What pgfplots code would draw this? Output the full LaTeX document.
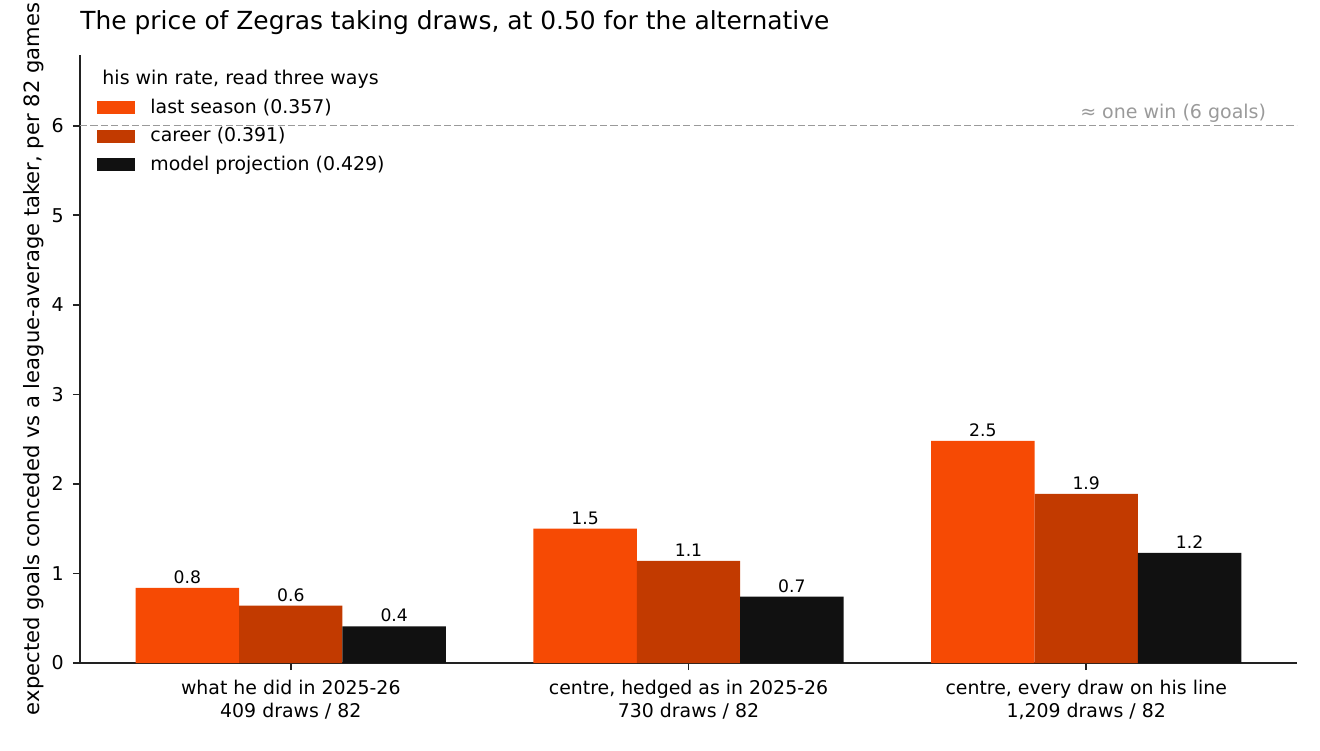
\documentclass[border=0pt]{standalone}
\usepackage{fontspec}
\setmainfont{DejaVu Sans}
\usepackage{pgfplots}
\pgfplotsset{compat=1.18}

\definecolor{cLast}{HTML}{F64A04}
\definecolor{cCareer}{HTML}{C23A00}
\definecolor{cModel}{HTML}{111111}
\definecolor{cRef}{HTML}{9A9A9A}
\definecolor{cAxis}{HTML}{222222}

\begin{document}
\begin{tikzpicture}
\begin{axis}[
  name=ax,
  scale only axis,
  width=608.5pt, height=304pt,
  xmin=-0.53, xmax=2.53,
  ymin=0, ymax=6.79,
  axis x line*=bottom, axis y line*=left,
  axis line style={cAxis, line width=0.8pt},
  ytick={0,1,2,3,4,5,6},
  xtick={0,1,2},
  xticklabels={{what he did in 2025-26\\409 draws / 82},
               {centre, hedged as in 2025-26\\730 draws / 82},
               {centre, every draw on his line\\1,209 draws / 82}},
  xticklabel style={align=center, font=\fontsize{9.45}{11.6}\selectfont, inner sep=0pt, yshift=-5pt},
  yticklabel style={font=\fontsize{9.5}{11}\selectfont, inner sep=0pt, xshift=-4.5pt},
  tick style={cAxis, line width=0.8pt},
  tick align=outside, major tick length=3.5pt,
  /pgf/number format/assume math mode=true,
  ylabel={expected goals conceded vs a league-average taker, per 82 games},
  ylabel style={font=\fontsize{10.55}{12}\selectfont, at={(axis description cs:-0.0378,0.5)}, anchor=center},
  title={The price of Zegras taking draws, at 0.50 for the alternative},
  title style={font=\fontsize{12.45}{14}\selectfont, at={(axis description cs:0,1)}, anchor=base west, yshift=6.5pt, inner sep=0pt},
  ybar, bar width=0.26,
  nodes near coords,
  nodes near coords style={font=\fontsize{8.6}{10}\selectfont, inner sep=0pt, anchor=south, yshift=2pt,
    /pgf/number format/.cd, fixed, fixed zerofill, precision=1, assume math mode=true},
  legend style={at={(axis description cs:0.01397,0.928)}, anchor=north west, draw=none, fill=none,
    font=\fontsize{9.45}{11}\selectfont, row sep=5.5pt, column sep=7.5pt, inner sep=0pt,
    nodes={inner sep=0pt}},
  legend cell align=left,
  legend image code/.code={\fill[#1, draw=none] (0pt,-3.25pt) rectangle (19pt,3.25pt);},
]
\draw[cRef, line width=0.75pt, dash pattern=on 3.6pt off 1.6pt] (axis cs:-0.53,6) -- (axis cs:2.53,6);
\node[anchor=base east, text=cRef, font=\fontsize{9.5}{11}\selectfont, inner sep=0pt]
  at (axis cs:2.453,6) [yshift=3.5pt] {≈ one win (6 goals)};
\node[anchor=west, font=\fontsize{9.5}{11}\selectfont, inner sep=0pt]
  at (axis description cs:0.0181,0.9605) {his win rate, read three ways};

\addplot[fill=cLast, draw=none, bar shift=-0.26] coordinates {(0,0.84) (1,1.50) (2,2.48)};
\addlegendentry{last season (0.357)}
\addplot[fill=cCareer, draw=none, bar shift=0] coordinates {(0,0.64) (1,1.14) (2,1.89)};
\addlegendentry{career (0.391)}
\addplot[fill=cModel, draw=none, bar shift=0.26] coordinates {(0,0.41) (1,0.74) (2,1.23)};
\addlegendentry{model projection (0.429)}
\end{axis}
\pgfresetboundingbox
\path (ax.south west) ++(-40pt,-43.5pt) rectangle ++(660pt,375pt);
\end{tikzpicture}
\end{document}
